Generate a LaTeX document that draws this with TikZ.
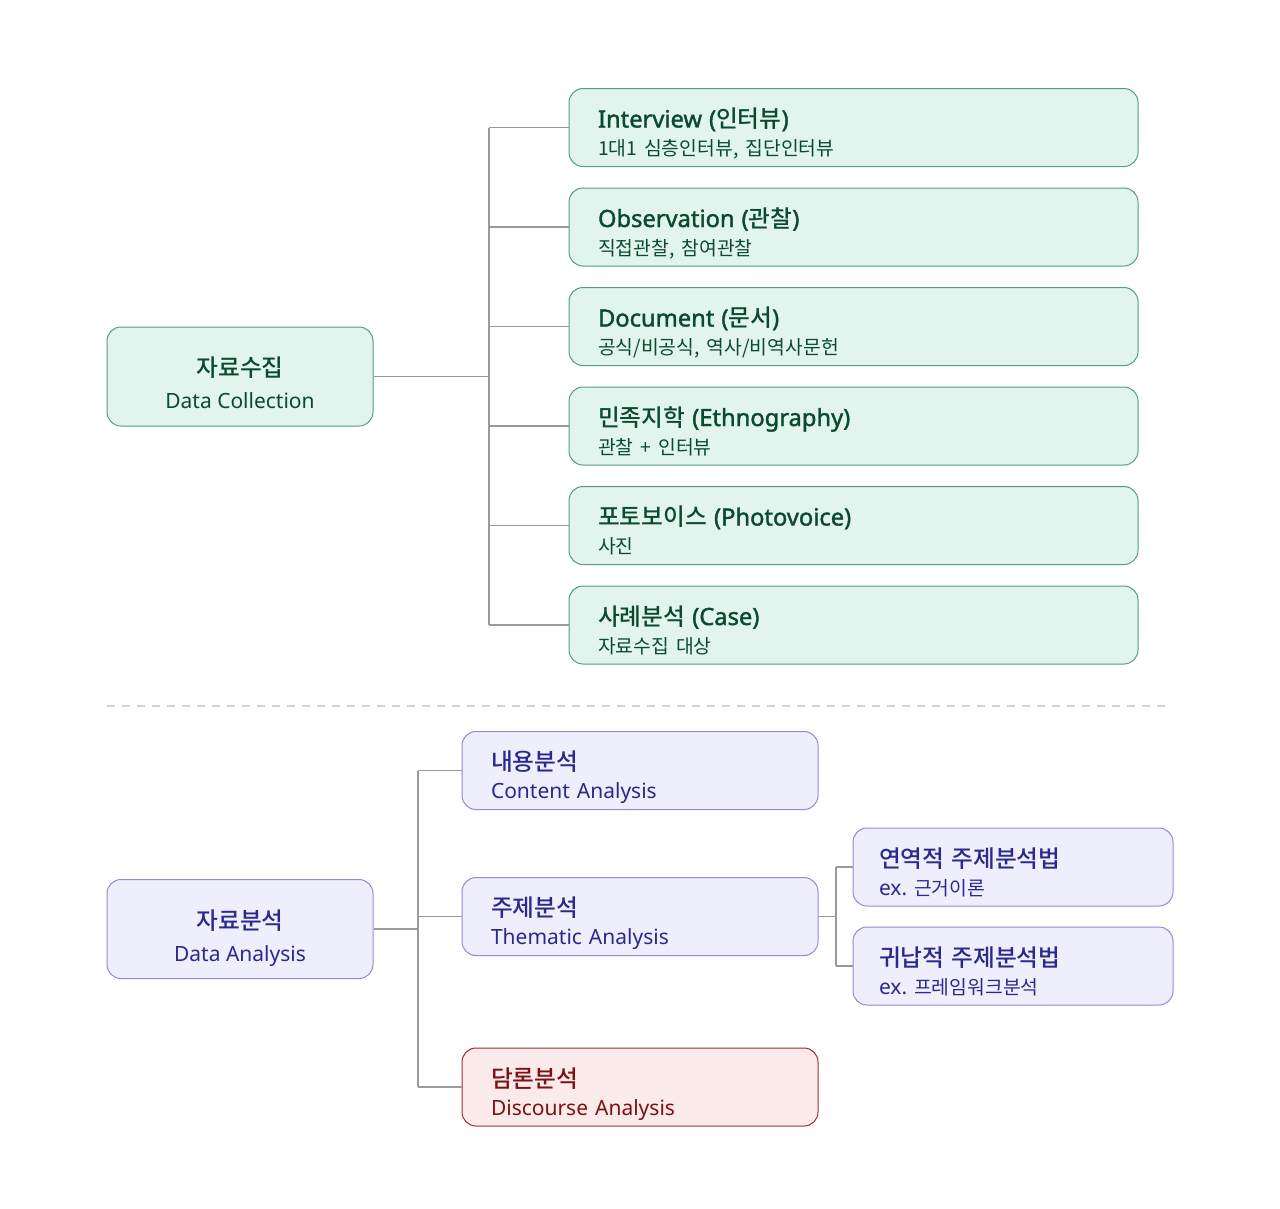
\documentclass[tikz,border=0pt]{standalone}
\usepackage{fontspec}
\setmainfont{Noto Sans}[BoldFont={Noto Sans}, BoldFeatures={FakeBold=1.6}]
\newfontfamily\krT{Noto Sans CJK KR}[BoldFont={Noto Sans CJK KR Medium}]
\newfontfamily\krS{Noto Sans CJK KR}[Scale=0.92]
\frenchspacing
\definecolor{gfill}{HTML}{E1F4EE}
\definecolor{gline}{HTML}{529E80}
\definecolor{gtext}{HTML}{0C4A30}
\definecolor{pfill}{HTML}{EEEEFD}
\definecolor{pline}{HTML}{8F8BDA}
\definecolor{ptext}{HTML}{2A2A8C}
\definecolor{rfill}{HTML}{FBEAEA}
\definecolor{rline}{HTML}{A52A2E}
\definecolor{rtext}{HTML}{7D1216}
\definecolor{cgray}{HTML}{9A9A9A}
\definecolor{dgray}{HTML}{D4D4D0}
\newcommand{\kT}[1]{{\krT #1}}
\newcommand{\kS}[1]{{\krS #1}}
\newcommand{\ttl}[2][34pt]{{\fontsize{23.7}{28}\selectfont\bfseries\rule{0pt}{#1}#2}}
\newcommand{\sbt}[1]{{\fontsize{21}{28}\selectfont #1\rule[-6pt]{0pt}{6pt}}}
\begin{document}
\begin{tikzpicture}[x=1pt,y=-1pt,
  box/.style={rounded corners=14pt, line width=1pt, minimum height=78pt, inner ysep=0pt,
    font=\fontsize{21}{28}\selectfont},
  leftbox/.style={box, minimum width=266pt, minimum height=99pt, align=center,
    font=\fontsize{21}{32}\selectfont},
  itembox/.style={box, align=left, inner xsep=29pt},
  green/.style={fill=gfill, draw=gline, text=gtext},
  purple/.style={fill=pfill, draw=pline, text=ptext},
  red/.style={fill=rfill, draw=rline, text=rtext},
  conn/.style={draw=cgray, line width=1.3pt},
  divider/.style={draw=dgray, line width=1.6pt, dash pattern=on 8pt off 7pt}]
\useasboundingbox (0,0) rectangle (1280,1208);

% ---------- Data collection ----------
\node[leftbox, green] (dc) at (240,376.5) {\ttl[38pt]{\kT{자료수집}}\\\sbt{Data Collection}};

\node[itembox, green, text width=511pt] (iv) at (853.5,127.5) {\ttl{Interview (\kT{인터뷰})}\\\sbt{\kS{1대1 심층인터뷰, 집단인터뷰}}};
\node[itembox, green, text width=511pt] (ob) at (853.5,227) {\ttl{Observation (\kT{관찰})}\\\sbt{\kS{직접관찰, 참여관찰}}};
\node[itembox, green, text width=511pt] (doc) at (853.5,326.5) {\ttl{Document (\kT{문서})}\\\sbt{\kS{공식/비공식, 역사/비역사문헌}}};
\node[itembox, green, text width=511pt] (eth) at (853.5,426) {\ttl{\kT{민족지학} (Ethnography)}\\\sbt{\kS{관찰 + 인터뷰}}};
\node[itembox, green, text width=511pt] (ph) at (853.5,525.5) {\ttl{\kT{포토보이스} (Photovoice)}\\\sbt{\kS{사진}}};
\node[itembox, green, text width=511pt] (cs) at (853.5,625) {\ttl{\kT{사례분석} (Case)}\\\sbt{\kS{자료수집 대상}}};

\coordinate (t1) at (489,376.5);
\draw[conn] (dc.east) -- (t1);
\draw[conn] (iv.west -| t1) -- (cs.west -| t1);
\foreach \n in {iv,ob,doc,eth,ph,cs}{\draw[conn] (\n.west -| t1) -- (\n.west);}

% ---------- divider ----------
\coordinate (d1) at (107,706);
\coordinate (d2) at (1170,706);
\draw[divider] (d1) -- (d2);

% ---------- Data analysis ----------
\node[leftbox, purple] (da) at (240,929) {\ttl[38pt]{\kT{자료분석}}\\\sbt{Data Analysis}};

\node[itembox, purple, text width=298pt] (ca) at (640,770.5) {\ttl{\kT{내용분석}}\\\sbt{Content Analysis}};
\node[itembox, purple, text width=298pt] (ta) at (640,916.5) {\ttl{\kT{주제분석}}\\\sbt{Thematic Analysis}};
\node[itembox, red, text width=298pt] (dis) at (640,1087) {\ttl{\kT{담론분석}}\\\sbt{Discourse Analysis}};

\node[itembox, purple, text width=268pt, inner xsep=26pt] (ded) at (1013,867) {\ttl{\kT{연역적 주제분석법}}\\\sbt{ex. \kS{근거이론}}};
\node[itembox, purple, text width=268pt, inner xsep=26pt] (ind) at (1013,966) {\ttl{\kT{귀납적 주제분석법}}\\\sbt{ex. \kS{프레임워크분석}}};

\coordinate (t2) at (418,929);
\draw[conn] (da.east) -- (t2);
\draw[conn] (ca.west -| t2) -- (dis.west -| t2);
\foreach \n in {ca,ta,dis}{\draw[conn] (\n.west -| t2) -- (\n.west);}

\coordinate (t3) at (836,916.5);
\draw[conn] (ta.east) -- (t3);
\draw[conn] (ded.west -| t3) -- (ind.west -| t3);
\foreach \n in {ded,ind}{\draw[conn] (\n.west -| t3) -- (\n.west);}
\end{tikzpicture}
\end{document}
